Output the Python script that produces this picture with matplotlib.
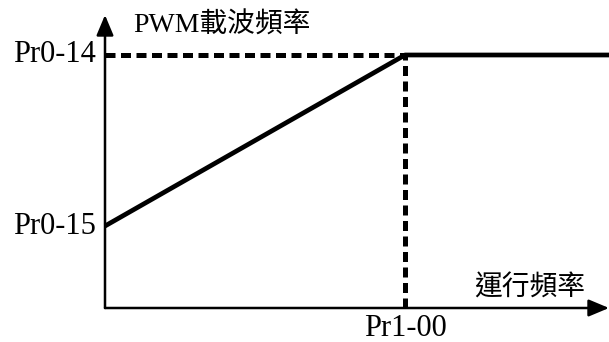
import matplotlib.pyplot as plt

# 字体：拉丁字符用衬线体，中文退回到 Noto CJK
plt.rcParams['font.family'] = ['Liberation Serif', 'Noto Sans CJK TC']

# 数据（任意单位）
x_pts = [0, 300, 504]        # 起点, Pr1-00, 右端
y_pts = [82, 253, 253]       # Pr0-15 -> Pr0-14 后保持
pr1_00 = 300
pr0_14 = 253
pr0_15 = 82
x_max, y_max = 504, 293

y_ticks = [pr0_14, pr0_15]
y_labels = ['Pr0-14', 'Pr0-15']
x_label_pos = [pr1_00]
x_labels = ['Pr1-00']

fig = plt.figure(figsize=(6.09, 3.42), dpi=100)
ax = fig.add_axes([105/609, 34/342, 504/609, 293/342])
ax.set_xlim(0, x_max)
ax.set_ylim(0, y_max)
ax.axis('off')

# 坐标轴箭头
arr = dict(arrowstyle='-|>,head_length=0.62,head_width=0.26', lw=1.8, color='k',
           mutation_scale=20, shrinkA=0, shrinkB=0)
ax.annotate('', xy=(x_max, 0), xytext=(0, 0), arrowprops=arr, annotation_clip=False)
ax.annotate('', xy=(0, y_max), xytext=(0, 0), arrowprops=arr, annotation_clip=False)

# 虚线
ax.plot([0, pr1_00], [pr0_14, pr0_14], color='k', lw=3.6, ls=(0, (2.0, 1.1)), clip_on=False)
ax.plot([pr1_00, pr1_00], [0, pr0_14], color='k', lw=3.6, ls=(0, (2.0, 1.1)), clip_on=False)

# 载波频率曲线
ax.plot(x_pts, y_pts, color='k', lw=3.4, solid_capstyle='butt', clip_on=False)

fs = 22
for yv, lab in zip(y_ticks, y_labels):
    ax.text(-9, yv, lab, ha='right', va='center', fontsize=fs)
for xv, lab in zip(x_label_pos, x_labels):
    ax.text(xv, -20, lab, ha='center', va='center', fontsize=fs)

ax.text(28, y_max - 11, 'PWM載波頻率', ha='left', va='center', fontsize=20)
ax.text(425, 19, '運行頻率', ha='center', va='center', fontsize=20)

fig.savefig('out.png', dpi=100)
